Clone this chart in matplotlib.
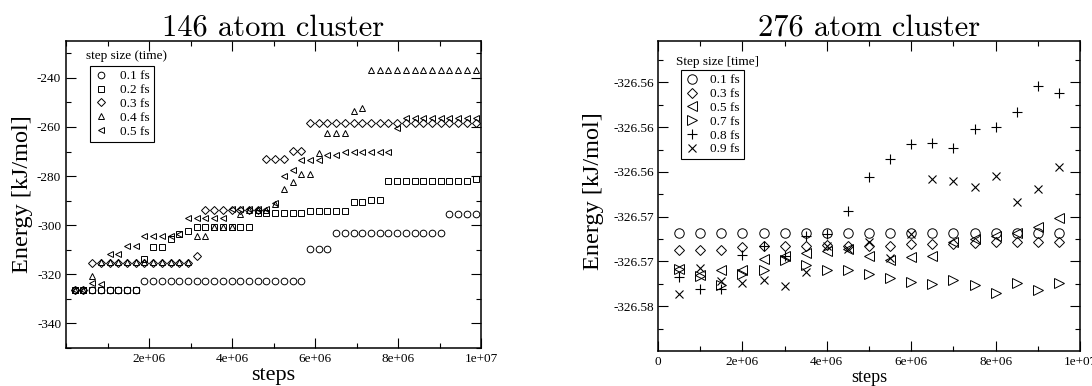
import numpy as np
import matplotlib
matplotlib.use("Agg")
import matplotlib.pyplot as plt
from matplotlib.ticker import FixedLocator, MultipleLocator, FuncFormatter, FormatStrFormatter

plt.rcParams['font.family'] = ['Liberation Serif', 'DejaVu Serif']
plt.rcParams['axes.unicode_minus'] = False

# ---------------- 146 atom cluster ----------------
steps_146 = [0.21, 0.42, 0.63, 0.84, 1.05, 1.26, 1.47, 1.68, 1.89, 2.10,
             2.31, 2.52, 2.73, 2.94, 3.15, 3.36, 3.57, 3.78, 3.99, 4.20,
             4.41, 4.62, 4.83, 5.04, 5.25, 5.46, 5.67, 5.88, 6.09, 6.30,
             6.51, 6.72, 6.93, 7.14, 7.35, 7.56, 7.77, 7.98, 8.19, 8.40,
             8.61, 8.82, 9.03, 9.24, 9.45, 9.66, 9.87]   # x 1e6 steps

e_01fs = ([-326.5] * 8 + [-322.7] * 19 + [-309.5] * 3 + [-303.1] * 13
          + [-295.3] * 4)
e_02fs = ([-326.5] * 8 + [-313.8] + [-309.0] * 2 + [-305.8, -303.4, -302.5]
          + [-300.8] * 7 + [-295.0] * 6 + [-294.2] * 5 + [-290.5] * 2
          + [-289.6] * 2 + [-282.2] * 10 + [-281.0])
e_03fs = ([-326.5] * 2 + [-315.3] * 12 + [-312.7] + [-294.0] * 7
          + [-273.0] * 3 + [-269.6] * 2 + [-258.5] * 20)
e_04fs = ([-326.5] * 2 + [-320.7] + [-315.0] * 11 + [-304.5] * 2
          + [-300.8] * 3 + [-295.5] + [-294.0] * 3 + [-291.2, -285.1, -282.4]
          + [-279.0] * 2 + [-270.7] + [-262.6] * 3 + [-253.5, -252.4]
          + [-236.8] * 13)
e_05fs = ([-326.5] * 2 + [-323.7, -324.0] + [-311.7] * 2 + [-308.4] * 2
          + [-304.5] * 4 + [-303.6] + [-297.0] * 5 + [-293.6] * 5
          + [-290.8, -280.1, -277.7] + [-273.6] * 3 + [-271.4] * 2
          + [-270.0] * 6 + [-260.5] + [-256.5] * 9)

labels_146 = ['0.1 fs', '0.2 fs', '0.3 fs', '0.4 fs', '0.5 fs']

# ---------------- 276 atom cluster ----------------
steps_276 = [0.5, 1.0, 1.5, 2.0, 2.5, 3.0, 3.5, 4.0, 4.5, 5.0,
             5.5, 6.0, 6.5, 7.0, 7.5, 8.0, 8.5, 9.0, 9.5]   # x 1e6 steps

f_01fs = [-326.5695] * 19
f_03fs = [-326.5710, -326.5710, -326.5710, -326.5707, -326.5706, -326.5706,
          -326.5706, -326.5705, -326.5706, -326.5706, -326.5706, -326.5704,
          -326.5704, -326.5704, -326.57035, -326.5703, -326.5703, -326.5703,
          -326.5703]
f_05fs = [-326.57265, -326.57324, -326.5728, -326.5728, -326.57176, -326.57147,
          -326.57125, -326.5711, -326.57087, -326.57147, -326.5719, -326.5716,
          -326.57147, -326.57028, -326.56998, -326.56969, -326.56948,
          -326.56894, -326.56814]
f_07fs = [-326.57265, -326.5733, -326.57413, -326.5731, -326.57277, -326.5719,
          -326.57236, -326.57274, -326.5728, -326.57315, -326.57345,
          -326.57383, -326.57398, -326.57363, -326.57413, -326.5748,
          -326.57392, -326.57452, -326.5739]
f_08fs = [-326.57339, -326.57443, -326.57443, -326.57138, -326.57058,
          -326.57147, -326.56969, -326.56954, -326.5675, -326.56441,
          -326.56287, -326.56154, -326.56145, -326.5619, -326.5602,
          -326.55997, -326.55863, -326.55629, -326.55694]
f_09fs = [-326.57493, -326.57259, -326.57374, -326.5739, -326.57363,
          -326.57422, -326.57294, -326.57058, -326.5709, -326.57028,
          -326.57167, -326.56954, -326.56465, -326.5648, -326.56539,
          -326.56435, -326.56672, -326.56548, -326.5636]

labels_276 = ['0.1 fs', '0.3 fs', '0.5 fs', '0.7 fs', '0.8 fs', '0.9 fs']


def style_axes(ax):
    for sp in ax.spines.values():
        sp.set_linewidth(1.1)
    ax.tick_params(which='both', direction='in', top=True, right=True,
                   width=0.8, labelsize=9.5, pad=3.5)
    ax.tick_params(which='major', length=7)
    ax.tick_params(which='minor', length=3.5)


def sci_fmt(v, pos):
    return '0' if v == 0 else '%.0e' % v


fig = plt.figure(figsize=(10.92, 3.86), dpi=100)
ax1 = fig.add_axes([66 / 1092, 38 / 386, 415 / 1092, 307 / 386])
ax2 = fig.add_axes([658 / 1092, 35 / 386, 422 / 1092, 310 / 386])

# --- left panel ---
x146 = np.array(steps_146) * 1e6
kw = dict(ls='none', mfc='none', mec='k', mew=0.7)
ax1.plot(x146, e_01fs, marker='o', ms=4.8, label=labels_146[0], **kw)
ax1.plot(x146, e_02fs, marker='s', ms=4.2, label=labels_146[1], **kw)
ax1.plot(x146, e_03fs, marker='D', ms=3.7, label=labels_146[2], **kw)
ax1.plot(x146, e_04fs, marker='^', ms=4.7, label=labels_146[3], **kw)
ax1.plot(x146, e_05fs, marker='<', ms=4.7, label=labels_146[4], **kw)

ax1.set_xlim(0, 1e7)
ax1.set_ylim(-350, -225)
ax1.xaxis.set_major_locator(FixedLocator([2e6, 4e6, 6e6, 8e6, 1e7]))
ax1.xaxis.set_minor_locator(MultipleLocator(1e6))
ax1.xaxis.set_major_formatter(FuncFormatter(sci_fmt))
ax1.yaxis.set_major_locator(MultipleLocator(20))
ax1.yaxis.set_minor_locator(MultipleLocator(10))
ax1.yaxis.set_major_formatter(FormatStrFormatter('%d'))
style_axes(ax1)

ax1.set_xlabel('steps', fontsize=16)
ax1.set_ylabel('Energy [kJ/mol]', fontsize=17.5)
ax1.xaxis.set_label_coords(0.5, -0.058)
ax1.yaxis.set_label_coords(-0.08, 0.5)

leg1 = ax1.legend(loc='upper left', bbox_to_anchor=(0.058, 0.92),
                  borderaxespad=0, fancybox=False, edgecolor='k',
                  framealpha=1, handlelength=1.0, handletextpad=0.9,
                  labelspacing=0.12, borderpad=0.35, fontsize=9.5)
leg1.get_frame().set_linewidth(0.8)
ax1.text(0.048, 0.952, 'step size (time)', transform=ax1.transAxes,
         fontsize=9.5, ha='left', va='center')

# --- right panel ---
x276 = np.array(steps_276) * 1e6
ax2.plot(x276, f_01fs, marker='o', ms=6.8, label=labels_276[0], **kw)
ax2.plot(x276, f_03fs, marker='D', ms=5.0, label=labels_276[1], **kw)
ax2.plot(x276, f_05fs, marker='<', ms=7.0, label=labels_276[2], **kw)
ax2.plot(x276, f_07fs, marker='>', ms=7.0, label=labels_276[3], **kw)
ax2.plot(x276, f_08fs, marker='+', ms=7.2, color='k', ls='none', mew=0.8,
         label=labels_276[4])
ax2.plot(x276, f_09fs, marker='x', ms=5.6, color='k', ls='none', mew=0.8,
         label=labels_276[5])

ax2.set_xlim(0, 1e7)
ax2.set_ylim(-326.58, -326.5523)
ax2.xaxis.set_major_locator(MultipleLocator(2e6))
ax2.xaxis.set_minor_locator(MultipleLocator(1e6))
ax2.xaxis.set_major_formatter(FuncFormatter(sci_fmt))
ax2.yaxis.set_major_locator(FixedLocator([-326.576, -326.572, -326.568,
                                          -326.564, -326.560, -326.556]))
ax2.yaxis.set_minor_locator(FixedLocator([-326.578, -326.574, -326.570,
                                          -326.566, -326.562, -326.558,
                                          -326.554]))
ax2.yaxis.set_major_formatter(FormatStrFormatter('%.2f'))
style_axes(ax2)
ax2.tick_params(axis='y', pad=2.5)

ax2.set_xlabel('steps', fontsize=13)
ax2.set_ylabel('Energy [kJ/mol]', fontsize=17.5)
ax2.xaxis.set_label_coords(0.5, -0.058)
ax2.yaxis.set_label_coords(-0.128, 0.516)

leg2 = ax2.legend(loc='upper left', bbox_to_anchor=(0.055, 0.906),
                  borderaxespad=0, fancybox=False, edgecolor='k',
                  framealpha=1, handlelength=1.0, handletextpad=0.9,
                  labelspacing=0.12, borderpad=0.3, fontsize=9.5)
leg2.get_frame().set_linewidth(0.8)
ax2.text(0.043, 0.933, 'Step size [time]', transform=ax2.transAxes,
         fontsize=9.5, ha='left', va='center')

# titles (Computer Modern look), centred over each panel
fig.text((66 + 415 / 2) / 1092, (386 - 35) / 386, '146 atom cluster',
         fontsize=22, family='cmr10', ha='center', va='baseline')
fig.text((658 + 422 / 2) / 1092, (386 - 35) / 386, '276 atom cluster',
         fontsize=22, family='cmr10', ha='center', va='baseline')

fig.savefig('out.png', dpi=100)
